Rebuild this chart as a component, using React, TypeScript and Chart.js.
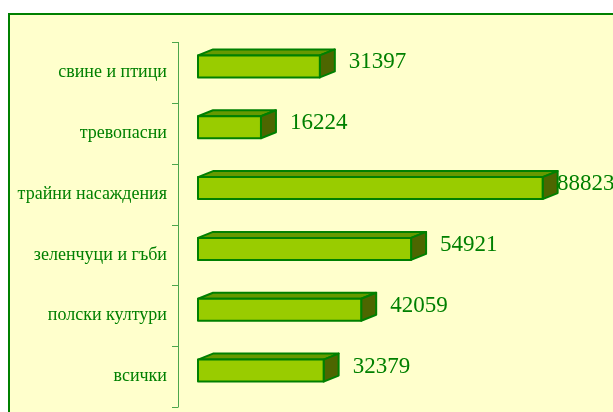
import React, { useEffect, useRef } from "react";
import { Chart, registerables } from "chart.js";

Chart.register(...registerables);

const categories = [
  "свине и птици",
  "тревопасни",
  "трайни насаждения",
  "зеленчуци и гъби",
  "полски култури",
  "всички",
];
const values = [31397, 16224, 88823, 54921, 42059, 32379];

const GREEN = "#008000";
const FRONT = "#99CC00";
const TOP = "#669900";
const SIDE = "#4D6600";
const DX = 15;
const DY = -6;

const framePlugin = {
  id: "frame",
  beforeDraw(chart: any) {
    const { ctx, width, height } = chart;
    ctx.save();
    ctx.fillStyle = "#FFFFFF";
    ctx.fillRect(0, 0, width, height);
    ctx.fillStyle = "#FFFFCC";
    ctx.fillRect(9, 14, width + 10, height + 10);
    ctx.strokeStyle = GREEN;
    ctx.lineWidth = 2;
    ctx.strokeRect(9, 14, width + 10, height + 10);
    ctx.restore();
  },
};

const bars3dPlugin = {
  id: "bars3d",
  afterDatasetsDraw(chart: any) {
    const { ctx, chartArea } = chart;
    ctx.save();
    // axis line with category boundary ticks
    const axX = chartArea.left - 20;
    ctx.strokeStyle = "#4CA64C";
    ctx.lineWidth = 1;
    ctx.beginPath();
    ctx.moveTo(axX + 0.5, chartArea.top);
    ctx.lineTo(axX + 0.5, chartArea.bottom);
    const n = categories.length;
    const step = (chartArea.bottom - chartArea.top) / n;
    for (let i = 0; i <= n; i++) {
      const yy = Math.round(chartArea.top + i * step) + 0.5;
      ctx.moveTo(axX - 6, yy);
      ctx.lineTo(axX + 0.5, yy);
    }
    ctx.stroke();

    const meta = chart.getDatasetMeta(0);
    meta.data.forEach((el: any, i: number) => {
      const left = el.base;
      const right = el.x;
      const h = el.height;
      const top = el.y - h / 2 - 6;
      const bottom = top + h;
      ctx.lineWidth = 2;
      ctx.strokeStyle = GREEN;
      ctx.lineJoin = "round";
      // top face
      ctx.beginPath();
      ctx.moveTo(left, top);
      ctx.lineTo(left + DX, top + DY);
      ctx.lineTo(right + DX, top + DY);
      ctx.lineTo(right, top);
      ctx.closePath();
      ctx.fillStyle = TOP;
      ctx.fill();
      ctx.stroke();
      // side face
      ctx.beginPath();
      ctx.moveTo(right, top);
      ctx.lineTo(right + DX, top + DY);
      ctx.lineTo(right + DX, bottom + DY);
      ctx.lineTo(right, bottom);
      ctx.closePath();
      ctx.fillStyle = SIDE;
      ctx.fill();
      ctx.stroke();
      // front face
      ctx.fillStyle = FRONT;
      ctx.fillRect(left, top, right - left, h);
      ctx.strokeRect(left, top, right - left, h);
      // value label
      ctx.fillStyle = GREEN;
      ctx.font = "23px 'Liberation Serif', 'Times New Roman', serif";
      ctx.textAlign = "left";
      ctx.textBaseline = "middle";
      const tx = Math.min(right + DX + 14, chart.width - 56);
      ctx.fillText(String(values[i]), tx, top + h / 2 - 4);
    });
    ctx.restore();
  },
};

export default function App() {
  const ref = useRef<HTMLCanvasElement>(null);
  useEffect(() => {
    document.body.style.margin = "0";
    const chart = new Chart(ref.current as HTMLCanvasElement, {
      type: "bar",
      data: {
        labels: categories,
        datasets: [
          {
            data: values,
            backgroundColor: "rgba(0,0,0,0)",
            borderWidth: 0,
            barThickness: 22,
          },
        ],
      },
      options: {
        indexAxis: "y",
        animation: false,
        responsive: false,
        devicePixelRatio: 1,
        layout: { padding: { top: 42, bottom: 5, left: 0, right: 27 } },
        plugins: {
          legend: { display: false },
          tooltip: { enabled: false },
        },
        scales: {
          x: {
            display: false,
            min: 0,
            max: 100000,
          },
          y: {
            grid: { display: false, drawTicks: false },
            border: { display: false },
            ticks: {
              color: GREEN,
              padding: 31,
              font: { family: "'Liberation Serif', 'Times New Roman', serif", size: 18 },
            },
            afterFit(scale: any) {
              scale.width = 198;
              scale.paddingTop = 0;
              scale.paddingBottom = 0;
            },
          },
        },
      },
      plugins: [framePlugin, bars3dPlugin],
    });
    return () => chart.destroy();
  }, []);
  return (
    <canvas
      ref={ref}
      width={613}
      height={412}
      style={{ display: "block", width: 613, height: 412 }}
    />
  );
}
